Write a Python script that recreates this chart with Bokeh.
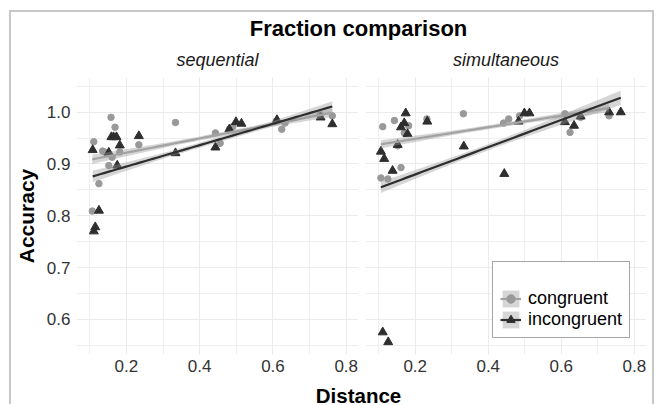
import numpy as np
from bokeh.plotting import figure
from bokeh.layouts import row, column, Spacer
from bokeh.models import FixedTicker, Legend, LegendItem, Range1d
from bokeh.embed import file_html
from bokeh.resources import INLINE

# ---------------- data ----------------
title_text = "Fraction comparison"
x_title = "Distance"
y_title = "Accuracy"
panel_names = ["sequential", "simultaneous"]
group_names = ["congruent", "incongruent"]

seq_con_x = [0.107, 0.111, 0.125, 0.135, 0.141, 0.152, 0.158, 0.161, 0.169, 0.182, 0.234,
             0.334, 0.443, 0.456, 0.481, 0.490, 0.609, 0.624, 0.633, 0.729, 0.762]
seq_con_y = [0.809, 0.943, 0.862, 0.925, 0.923, 0.897, 0.990, 0.913, 0.971, 0.923, 0.937,
             0.980, 0.960, 0.940, 0.967, 0.972, 0.983, 0.967, 0.979, 0.995, 0.993]

seq_inc_x = [0.108, 0.111, 0.115, 0.125, 0.152, 0.159, 0.165, 0.173, 0.175, 0.182, 0.234,
             0.334, 0.443, 0.481, 0.499, 0.514, 0.611, 0.730, 0.762]
seq_inc_y = [0.927, 0.770, 0.778, 0.810, 0.922, 0.952, 0.952, 0.952, 0.897, 0.936, 0.954,
             0.921, 0.932, 0.967, 0.981, 0.978, 0.985, 0.990, 0.977]

sim_con_x = [0.106, 0.111, 0.125, 0.143, 0.152, 0.161, 0.170, 0.182, 0.232, 0.332, 0.442,
             0.456, 0.486, 0.610, 0.624, 0.653, 0.731]
sim_con_y = [0.873, 0.972, 0.871, 0.984, 0.935, 0.893, 0.960, 0.974, 0.987, 0.997, 0.979,
             0.987, 0.993, 0.997, 0.961, 0.990, 0.993]

sim_inc_x = [0.106, 0.111, 0.115, 0.126, 0.138, 0.152, 0.161, 0.170, 0.174, 0.179, 0.233,
             0.333, 0.444, 0.483, 0.499, 0.513, 0.610, 0.635, 0.653, 0.731, 0.763]
sim_inc_y = [0.924, 0.575, 0.910, 0.556, 0.887, 0.937, 0.971, 0.979, 0.998, 0.958, 0.982,
             0.934, 0.881, 0.982, 0.998, 0.998, 0.981, 0.974, 0.992, 1.000, 1.000]

# linear fits: accuracy at the smallest and largest distance
seq_con_fit = [0.909, 0.999]
seq_inc_fit = [0.876, 1.011]
sim_con_fit = [0.938, 1.008]
sim_inc_fit = [0.855, 1.028]
# half-width of the confidence band: [left end, narrowest, right end]
seq_con_band = [0.009, 0.004, 0.008]
seq_inc_band = [0.011, 0.005, 0.010]
sim_con_band = [0.008, 0.004, 0.008]
sim_inc_band = [0.011, 0.006, 0.014]

x_major = [0.2, 0.4, 0.6, 0.8]
x_minor = [0.1, 0.3, 0.5, 0.7]
y_major = [0.6, 0.7, 0.8, 0.9, 1.0]
y_minor = [0.55, 0.65, 0.75, 0.85, 0.95, 1.05]
x_lim = (0.0638, 0.8335)
y_lim = (0.532, 1.067)

# ---------------- styling ----------------
FONT = "Liberation Sans"
CON_COLOR = "#999999"
INC_COLOR = "#2e2e2e"
CON_LINE = "#a3a3a3"
BAND = "#999999"
GRID = "#ebebeb"
NOSHRINK = {"flex-shrink": "0"}


def smooth(x, fit, band, n=60):
    x = np.asarray(x, float)
    x0, x1, xm = x.min(), x.max(), x.mean()
    xs = np.linspace(x0, x1, n)
    ys = np.interp(xs, [x0, x1], fit)
    c = np.polyfit([x0, xm, x1], np.square(band), 2)
    hw = np.sqrt(np.clip(np.polyval(c, xs), min(band) ** 2, None))
    return xs, ys, ys - hw, ys + hw


def make_panel(name, cx, cy, ix, iy, cfit, cband, ifit, iband,
               left_border, right_border, frame_w, show_y):
    p = figure(frame_width=frame_w, frame_height=277,
               x_range=Range1d(*x_lim), y_range=Range1d(*y_lim),
               output_backend="svg", toolbar_location=None,
               min_border_left=left_border, min_border_right=right_border,
               min_border_top=0, min_border_bottom=27, styles=NOSHRINK)
    p.title.text = name
    p.title.align = "center"
    p.title.text_font = FONT
    p.title.text_font_size = "18px"
    p.title.text_font_style = "italic"
    p.title.text_color = "#1a1a1a"
    p.title.standoff = 14.5
    p.outline_line_color = None
    p.background_fill_color = "white"
    p.border_fill_color = "white"

    p.xaxis.ticker = FixedTicker(ticks=x_major, minor_ticks=x_minor)
    p.yaxis.ticker = FixedTicker(ticks=y_major, minor_ticks=y_minor)
    p.xgrid.ticker = FixedTicker(ticks=x_major, minor_ticks=x_minor)
    p.ygrid.ticker = FixedTicker(ticks=y_major, minor_ticks=y_minor)
    for g in (p.xgrid, p.ygrid):
        g.grid_line_color = GRID
        g.grid_line_width = 1.1
        g.minor_grid_line_color = GRID
        g.minor_grid_line_width = 0.8

    for ax in (p.xaxis, p.yaxis):
        ax.axis_line_color = None
        ax.major_tick_line_color = None
        ax.minor_tick_line_color = None
        ax.major_tick_out = 0
        ax.major_tick_in = 0
        ax.minor_tick_out = 0
        ax.minor_tick_in = 0
        ax.major_label_text_font = FONT
        ax.major_label_text_font_size = "17px"
        ax.major_label_text_color = "#333333"
    p.xaxis.major_label_standoff = 5
    p.yaxis.major_label_standoff = 6
    p.xaxis.major_label_overrides = {v: f"{v:.1f}" for v in x_major}
    p.yaxis.major_label_overrides = {v: f"{v:.1f}" for v in y_major}
    if show_y:
        p.yaxis.axis_label = y_title
        p.yaxis.axis_label_text_font = FONT
        p.yaxis.axis_label_text_font_size = "21px"
        p.yaxis.axis_label_text_font_style = "bold"
        p.yaxis.axis_label_text_color = "black"
        p.yaxis.axis_label_standoff = 6
    else:
        p.yaxis.visible = False

    rc = p.scatter(cx, cy, marker="circle", size=6.5, fill_color=CON_COLOR, line_color=CON_COLOR)
    ri = p.scatter(ix, iy, marker="triangle", size=9, fill_color=INC_COLOR, line_color=INC_COLOR)
    xs, ys, lo, hi = smooth(cx, cfit, cband)
    bc = p.varea(x=xs, y1=lo, y2=hi, fill_color=BAND, fill_alpha=0.4)
    lc = p.line(xs, ys, line_color=CON_LINE, line_width=2.2)
    xs, ys, lo, hi = smooth(ix, ifit, iband)
    bi = p.varea(x=xs, y1=lo, y2=hi, fill_color=BAND, fill_alpha=0.4)
    li = p.line(xs, ys, line_color=INC_COLOR, line_width=2.2)
    return p, (bc, lc, rc), (bi, li, ri)


p1, _, _ = make_panel(panel_names[0], seq_con_x, seq_con_y, seq_inc_x, seq_inc_y,
                      seq_con_fit, seq_con_band, seq_inc_fit, seq_inc_band, 62, 3, 282, True)
p2, con_r, inc_r = make_panel(panel_names[1], sim_con_x, sim_con_y, sim_inc_x, sim_inc_y,
                              sim_con_fit, sim_con_band, sim_inc_fit, sim_inc_band, 4, 6, 281, False)

legend = Legend(items=[LegendItem(label=group_names[0], renderers=list(con_r)),
                       LegendItem(label=group_names[1], renderers=list(inc_r))],
                location=(127, 16), orientation="vertical",
                glyph_width=21, glyph_height=21, spacing=0, padding=7, margin=0,
                label_standoff=7, label_text_font=FONT, label_text_font_size="18px",
                label_text_color="black", label_height=21,
                border_line_color="#4d4d4d", border_line_width=1,
                background_fill_color="white", background_fill_alpha=1.0,
                title=" ", title_text_font_size="13px", title_standoff=4)
p2.add_layout(legend)


def text_strip(text, height, size, where):
    f = figure(width=638, height=height, output_backend="svg", toolbar_location=None,
               title_location=where, x_axis_location=None, y_axis_location=None,
               min_border_left=62, min_border_right=6, min_border_top=0, min_border_bottom=0,
               styles=NOSHRINK)
    f.title.text = text
    f.title.align = "center"
    f.title.text_font = FONT
    f.title.text_font_size = size
    f.title.text_font_style = "bold"
    f.title.text_color = "black"
    f.title.standoff = 0
    f.outline_line_color = None
    f.xgrid.visible = False
    f.ygrid.visible = False
    f.border_fill_color = "white"
    f.background_fill_color = "white"
    return f


title_fig = text_strip(title_text, 28, "22px", "below")
xlabel_fig = text_strip(x_title, 23, "20.5px", "below")

framed = column(title_fig, row(p1, p2, styles=NOSHRINK), xlabel_fig,
                styles={"border-top": "2px solid #c8c8c8",
                        "border-left": "2px solid #c8c8c8",
                        "border-right": "2px solid #c8c8c8"})
layout = column(Spacer(height=10), row(Spacer(width=9), framed))

open("out.html", "w").write(file_html(layout, INLINE))
